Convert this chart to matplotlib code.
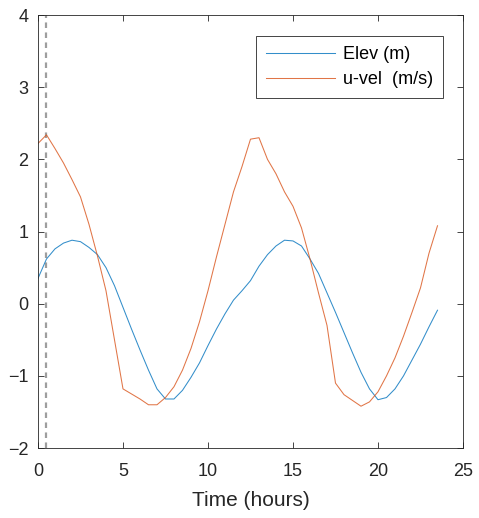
import numpy as np
import matplotlib.pyplot as plt

plt.rcParams['font.family'] = ['Liberation Sans', 'DejaVu Sans']

# half-hourly samples
t = np.arange(0, 24, 0.5)
elev = [0.35, 0.62, 0.76, 0.84, 0.88, 0.86, 0.78, 0.68, 0.50, 0.25,
        -0.05, -0.35, -0.64, -0.92, -1.18, -1.32, -1.32, -1.20, -1.02, -0.82,
        -0.58, -0.35, -0.14, 0.05, 0.18, 0.32, 0.52, 0.68, 0.80, 0.88,
        0.87, 0.80, 0.62, 0.42, 0.15, -0.12, -0.40, -0.68, -0.95, -1.18,
        -1.33, -1.30, -1.18, -1.00, -0.78, -0.56, -0.32, -0.09]
uvel = [2.22, 2.34, 2.15, 1.95, 1.72, 1.48, 1.10, 0.66, 0.18, -0.50,
        -1.18, -1.25, -1.32, -1.40, -1.40, -1.30, -1.15, -0.92, -0.62, -0.25,
        0.18, 0.65, 1.10, 1.55, 1.90, 2.28, 2.30, 2.00, 1.80, 1.55,
        1.35, 1.05, 0.62, 0.15, -0.30, -1.10, -1.26, -1.34, -1.42, -1.36,
        -1.22, -1.00, -0.75, -0.45, -0.12, 0.22, 0.70, 1.08]
t_mark = 0.5

blue = (0, 0.447, 0.741)
red = (0.85, 0.325, 0.098)
axcol = (0.15, 0.15, 0.15)

fig = plt.figure(figsize=(4.79, 5.18), dpi=100)
ax = fig.add_axes([0.0793, 0.135, 0.8873, 0.836])

ax.axvline(t_mark, color=(0.62, 0.62, 0.62), ls=(0, (2.5, 2)), lw=1.6, zorder=1)
ax.plot(t, elev, color=blue, lw=0.75, alpha=0.8, label='Elev (m)')
ax.plot(t, uvel, color=red, lw=0.75, alpha=0.8, label='u-vel  (m/s)')

ax.set_xlim(0, 25)
ax.set_ylim(-2, 4)
ax.set_xticks([0, 5, 10, 15, 20, 25])
ax.set_yticks([-2, -1, 0, 1, 2, 3, 4])
ax.tick_params(direction='in', length=4, width=0.6, colors=axcol,
               labelsize=13, top=True, right=True, labelcolor=axcol)
ax.tick_params(axis='x', pad=11)
ax.tick_params(axis='y', pad=7)
for s in ax.spines.values():
    s.set_color(axcol)
    s.set_linewidth(0.6)
ax.set_xlabel('Time (hours)', fontsize=15, color=axcol, labelpad=8)

leg = ax.legend(loc='upper right', bbox_to_anchor=(0.953, 0.951), fontsize=13,
                fancybox=False, framealpha=1, edgecolor=axcol,
                handlelength=3.8, handletextpad=0.45, borderpad=0.55,
                labelspacing=0.45, borderaxespad=0)
leg.get_frame().set_linewidth(0.6)

fig.savefig('out.png', dpi=100)
